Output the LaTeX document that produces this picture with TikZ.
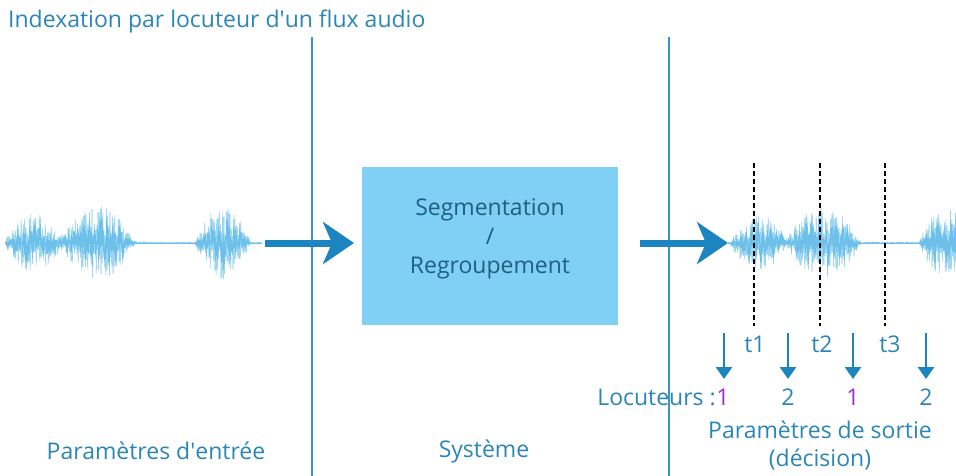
\documentclass[tikz,border=0pt]{standalone}
\usepackage{fontspec}
\setmainfont{Open Sans}
\usetikzlibrary{arrows.meta}
\definecolor{txtblue}{HTML}{2B86B6}
\definecolor{boxtxt}{HTML}{1F5F80}
\definecolor{boxfill}{HTML}{7FD0F4}
\definecolor{arrblue}{HTML}{1C84BE}
\definecolor{lineblue}{HTML}{3A92C6}
\definecolor{wavecol}{HTML}{6CC0EA}
\definecolor{spkpurple}{HTML}{9A32C8}
\tikzset{
  lbl/.style={font=\fontsize{23}{28}\selectfont, text=txtblue, inner sep=0pt},
  sep/.style={draw=lineblue, line width=1.6pt},
  wave/.style={draw=wavecol, line width=0.5pt, line join=round},
  bigarrow/.style={draw=arrblue, line width=7pt, -{Stealth[length=31pt,width=42pt,inset=9pt]}},
  downarrow/.style={draw=arrblue, line width=2.8pt, -{Triangle[length=12pt,width=16pt]}},
  cut/.style={draw=black, line width=1.1pt, dash pattern=on 5pt off 3pt},
}
\begin{document}
\begin{tikzpicture}[x=1pt,y=-1pt,
  declare function={
    envL(\x)=1.2+28*max(0,1-((\x-34)/30)^2)+36*max(0,1-((\x-98)/38)^2)+35*max(0,1-((\x-223)/28)^2);
    envR(\x)=1.2+28*max(0,1-((\x-759)/29)^2)+35*max(0,1-((\x-823)/38)^2)+35*max(0,1-((\x-947)/28)^2);
  }]
\useasboundingbox (0,0) rectangle (956,476);
\pgfmathsetseed{7}
% title
\node[lbl, anchor=west] (title) at (8,21) {Indexation par locuteur d\textquotesingle un flux audio};
% separators
\coordinate (s1t) at (312,37); \coordinate (s1b) at (312,476);
\coordinate (s2t) at (669,37); \coordinate (s2b) at (669,476);
\draw[sep] (s1t) -- (s1b);
\draw[sep] (s2t) -- (s2b);
% left waveform
\draw[wave] (5,243) \foreach \x [count=\i] in {5.6,6.2,...,262} {-- (\x,{243+envL(\x)*(-1)^\i*(0.2+0.8*rnd)})};
\draw[wave] (5,243) -- (262,243);
% right waveform
\begin{scope}
\clip (700,150) rectangle (956,320);
\draw[wave] (728,243) \foreach \x [count=\i] in {728.6,729.2,...,958} {-- (\x,{243+envR(\x)*(-1)^\i*(0.2+0.8*rnd)})};
\draw[wave] (728,243) -- (958,243);
\end{scope}
% system box
\node[fill=boxfill, minimum width=256pt, minimum height=158pt, inner sep=0pt, anchor=north west] (box) at (362,167) {};
\node[font=\fontsize{23}{29}\selectfont, text=boxtxt, align=center, inner sep=0pt] (boxtext) at (490,239)
  {Segmentation\\/\\Regroupement};
% big arrows
\coordinate (a1s) at (265,243); \coordinate (a1e) at (354,243);
\coordinate (a2s) at (640,243); \coordinate (a2e) at (728,243);
\draw[bigarrow] (a1s) -- (a1e);
\draw[bigarrow] (a2s) -- (a2e);
% dashed cut lines
\foreach \n/\x in {1/754,2/820,3/885} {
  \coordinate (d\n t) at (\x,163); \coordinate (d\n b) at (\x,326);
  \draw[cut] (d\n t) -- (d\n b);
}
% time labels
\node[lbl] (t1) at (755,344) {t1};
\node[lbl] (t2) at (822,344) {t2};
\node[lbl] (t3) at (890,344) {t3};
% down arrows and speaker numbers
\node[lbl, text=spkpurple] (n1) at (723,397) {1};
\node[lbl] (n2) at (788,397) {2};
\node[lbl, text=spkpurple] (n3) at (853,397) {1};
\node[lbl] (n4) at (926,397) {2};
\foreach \n/\x in {1/724,2/788,3/853,4/926} {
  \coordinate (u\n) at (\x,333);
  \draw[downarrow] (u\n) -- (\x,379);
}
\node[lbl, anchor=east] (loc) at (716,397) {Locuteurs :};
% bottom labels
\node[lbl] (pin) at (156,451) {Paramètres d\textquotesingle entrée};
\node[lbl] (sys) at (484,451) {Système};
\node[lbl, align=center] (pout) at (820,446) {Paramètres de sortie\\(décision)};
\end{tikzpicture}
\end{document}
